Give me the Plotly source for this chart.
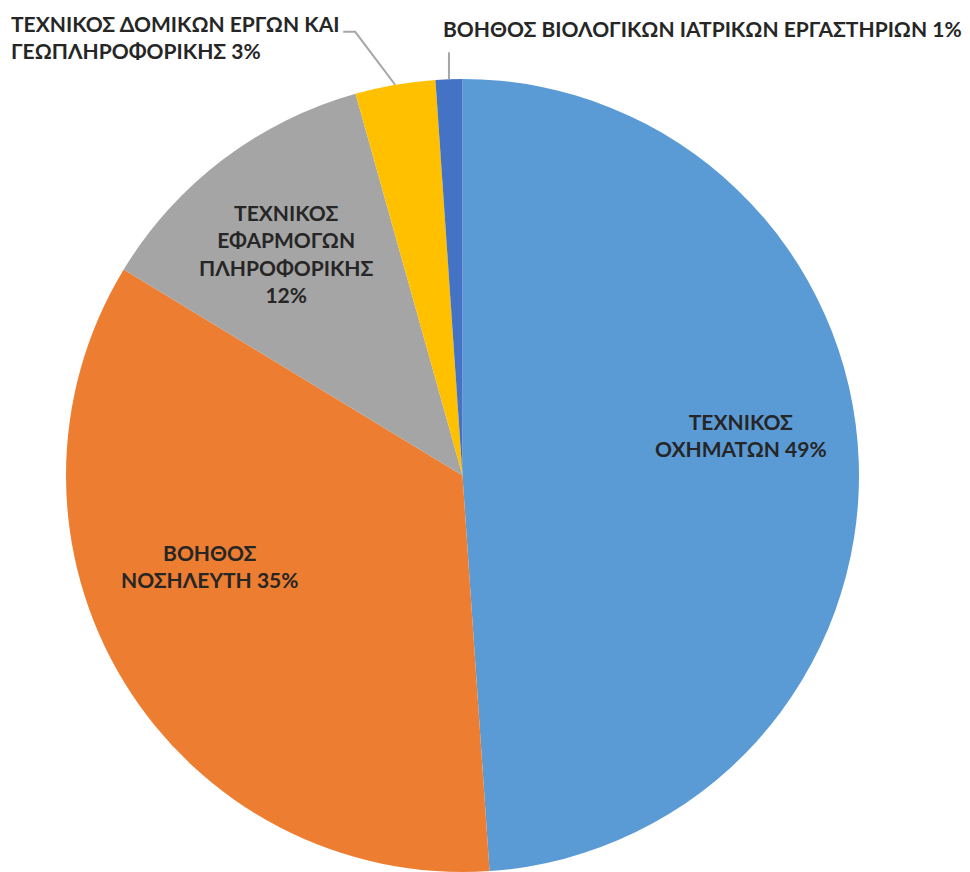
import math
import plotly.graph_objects as go

labels = [
    "ΤΕΧΝΙΚΟΣ ΟΧΗΜΑΤΩΝ",
    "ΒΟΗΘΟΣ ΝΟΣΗΛΕΥΤΗ",
    "ΤΕΧΝΙΚΟΣ ΕΦΑΡΜΟΓΩΝ ΠΛΗΡΟΦΟΡΙΚΗΣ",
    "ΤΕΧΝΙΚΟΣ ΔΟΜΙΚΩΝ ΕΡΓΩΝ ΚΑΙ ΓΕΩΠΛΗΡΟΦΟΡΙΚΗΣ",
    "ΒΟΗΘΟΣ ΒΙΟΛΟΓΙΚΩΝ ΙΑΤΡΙΚΩΝ ΕΡΓΑΣΤΗΡΙΩΝ",
]
label_lines = [
    "ΤΕΧΝΙΚΟΣ<br>ΟΧΗΜΑΤΩΝ",
    "ΒΟΗΘΟΣ<br>ΝΟΣΗΛΕΥΤΗ",
    "ΤΕΧΝΙΚΟΣ<br>ΕΦΑΡΜΟΓΩΝ<br>ΠΛΗΡΟΦΟΡΙΚΗΣ<br>",
    "ΤΕΧΝΙΚΟΣ ΔΟΜΙΚΩΝ ΕΡΓΩΝ ΚΑΙ<br>ΓΕΩΠΛΗΡΟΦΟΡΙΚΗΣ",
    "ΒΟΗΘΟΣ ΒΙΟΛΟΓΙΚΩΝ ΙΑΤΡΙΚΩΝ ΕΡΓΑΣΤΗΡΙΩΝ",
]
values = [45, 32, 11, 3, 1]
colors = ["#5B9BD5", "#ED7D31", "#A5A5A5", "#FFC000", "#4472C4"]

# style: inside-label placement (angle nudge in degrees, radius fraction)
inside_nudge = [-6.4, 11.7, -1.2]
inside_rfrac = [0.711, 0.677, 0.714]

FONT = "Lato"
TXT = "#262626"
FS = 21
LEADER = "#A6A6A6"

total = sum(values)
pcts = [v / total for v in values]
texts = []
for lab, p in zip(label_lines, pcts):
    sep = "" if lab.endswith("<br>") else " "
    texts.append(f"{lab}{sep}{round(p * 100)}%")

fig = go.Figure(
    go.Pie(
        labels=labels,
        values=values,
        textinfo="none",
        sort=False,
        direction="clockwise",
        rotation=0,
        marker=dict(colors=colors, line=dict(width=0)),
        showlegend=False,
        hoverinfo="label+percent",
    )
)

# slice mid-angles (clockwise from 12 o'clock), from the data
cum = 0.0
mids = []
for p in pcts:
    mids.append((cum + p / 2) * 2 * math.pi)
    cum += p


def edge(theta, r=0.5):
    return 0.5 + r * math.sin(theta), 0.5 + r * math.cos(theta)


font = dict(family=FONT, size=FS, color=TXT, weight="bold")
shapes = []
annotations = []

# inside labels of the three large slices
for i in range(3):
    th = mids[i] + math.radians(inside_nudge[i])
    x, y = edge(th, 0.5 * inside_rfrac[i])
    annotations.append(dict(xref="paper", yref="paper", x=x, y=y, text=texts[i],
                            showarrow=False, xanchor="center", yanchor="middle",
                            align="center", font=font))

# slice 4 (yellow): bent leader line and label to the upper left
x0, y0 = edge(mids[3])
shapes.append(dict(type="path", xref="paper", yref="paper",
                   path=f"M {x0},{y0} L {x0 - 0.0504},{y0 + 0.0668} L {x0 - 0.0655},{y0 + 0.0668}",
                   line=dict(color=LEADER, width=2)))
annotations.append(dict(xref="paper", yref="paper", x=x0 - 0.068, y=y0 + 0.060,
                        text=texts[3], showarrow=False, xanchor="right", yanchor="middle",
                        align="left", font=font))

# slice 5 (dark blue): vertical leader line and label above
x1, y1 = edge(mids[4])
shapes.append(dict(type="path", xref="paper", yref="paper",
                   path=f"M {x1},{y1} L {x1},{y1 + 0.034}",
                   line=dict(color=LEADER, width=2)))
annotations.append(dict(xref="paper", yref="paper", x=x1 - 0.010, y=y1 + 0.064,
                        text=texts[4], showarrow=False, xanchor="left", yanchor="middle",
                        align="left", font=font))

fig.update_layout(
    width=970,
    height=872,
    margin=dict(l=58, r=119, t=71, b=8),
    paper_bgcolor="white",
    plot_bgcolor="white",
    shapes=shapes,
    annotations=annotations,
)

fig.write_html("out.html")
